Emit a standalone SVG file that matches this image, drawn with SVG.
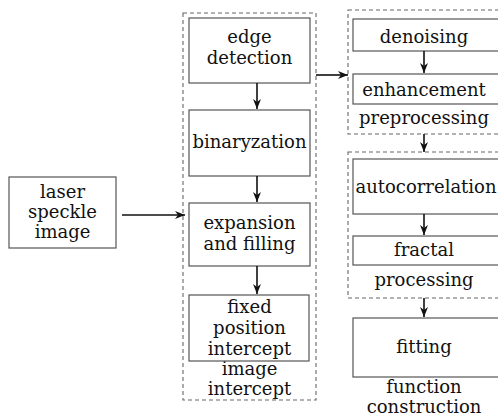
<svg xmlns="http://www.w3.org/2000/svg" width="498" height="416" viewBox="0 0 498 416">
<defs>
<style>
text{font-family:"DejaVu Serif","Liberation Serif",serif;font-size:18px;fill:#111;text-anchor:middle}
.box{fill:#fff;stroke:#555;stroke-width:1.2}
.grp{fill:none;stroke:#666;stroke-width:1.1;stroke-dasharray:4 3}
.ln{stroke:#111;stroke-width:1.6;fill:none}
</style>
<marker id="ah" markerUnits="userSpaceOnUse" markerWidth="11" markerHeight="9" refX="10" refY="4" orient="auto">
<path d="M0,0 L10,4 L0,8 L3,4 z" fill="#111"/>
</marker>
</defs>
<rect width="498" height="416" fill="#fff"/>
<g id="group-image-intercept">
<rect class="grp" x="183" y="13" width="133" height="387"/>
<text x="249.5" y="375">image</text>
<text x="249.5" y="395">intercept</text>
</g>
<g id="group-preprocessing">
<rect class="grp" x="348" y="10" width="160" height="124"/>
<text x="424" y="124">preprocessing</text>
</g>
<g id="group-processing">
<rect class="grp" x="348" y="152" width="160" height="146"/>
<text x="424" y="286">processing</text>
</g>
<g id="laser">
<rect class="box" x="9" y="177" width="107" height="71"/>
<text x="62.5" y="198">laser</text>
<text x="62.5" y="218">speckle</text>
<text x="62.5" y="238">image</text>
</g>
<g id="edge">
<rect class="box" x="189" y="18" width="121" height="65"/>
<text x="249.5" y="43">edge</text>
<text x="249.5" y="64">detection</text>
</g>
<g id="binaryzation">
<rect class="box" x="189" y="110" width="121" height="66"/>
<text x="249.5" y="148">binaryzation</text>
</g>
<g id="expansion">
<rect class="box" x="189" y="203" width="121" height="63"/>
<text x="249.5" y="229">expansion</text>
<text x="249.5" y="250">and filling</text>
</g>
<g id="fixed">
<rect class="box" x="189" y="295" width="120" height="66"/>
<text x="249.5" y="313">fixed</text>
<text x="249.5" y="334">position</text>
<text x="249.5" y="355">intercept</text>
</g>
<g id="denoising">
<rect class="box" x="353" y="19" width="152" height="32"/>
<text x="424" y="43">denoising</text>
</g>
<g id="enhancement">
<rect class="box" x="353" y="74" width="152" height="30"/>
<text x="424" y="96">enhancement</text>
</g>
<g id="autocorrelation">
<rect class="box" x="353" y="159" width="152" height="55"/>
<text x="426" y="193">autocorrelation</text>
</g>
<g id="fractal">
<rect class="box" x="353" y="236" width="152" height="29"/>
<text x="424" y="256">fractal</text>
</g>
<g id="fitting">
<rect class="box" x="353" y="318" width="152" height="59"/>
<text x="424" y="353">fitting</text>
<text x="424" y="393">function</text>
<text x="424" y="413">construction</text>
</g>
<g id="connectors">
<line class="ln" x1="122" y1="215" x2="185" y2="215" marker-end="url(#ah)" stroke-width="2"/>
<line class="ln" x1="257" y1="83" x2="257" y2="109" marker-end="url(#ah)"/>
<line class="ln" x1="257" y1="176" x2="257" y2="202" marker-end="url(#ah)"/>
<line class="ln" x1="257" y1="266" x2="257" y2="294" marker-end="url(#ah)"/>
<line class="ln" x1="316" y1="75" x2="348" y2="75" marker-end="url(#ah)"/>
<line class="ln" x1="424" y1="51" x2="424" y2="73" marker-end="url(#ah)"/>
<line class="ln" x1="424" y1="134" x2="424" y2="152" marker-end="url(#ah)"/>
<line class="ln" x1="424" y1="214" x2="424" y2="235" marker-end="url(#ah)"/>
<line class="ln" x1="424" y1="298" x2="424" y2="317" marker-end="url(#ah)"/>
</g>
</svg>
